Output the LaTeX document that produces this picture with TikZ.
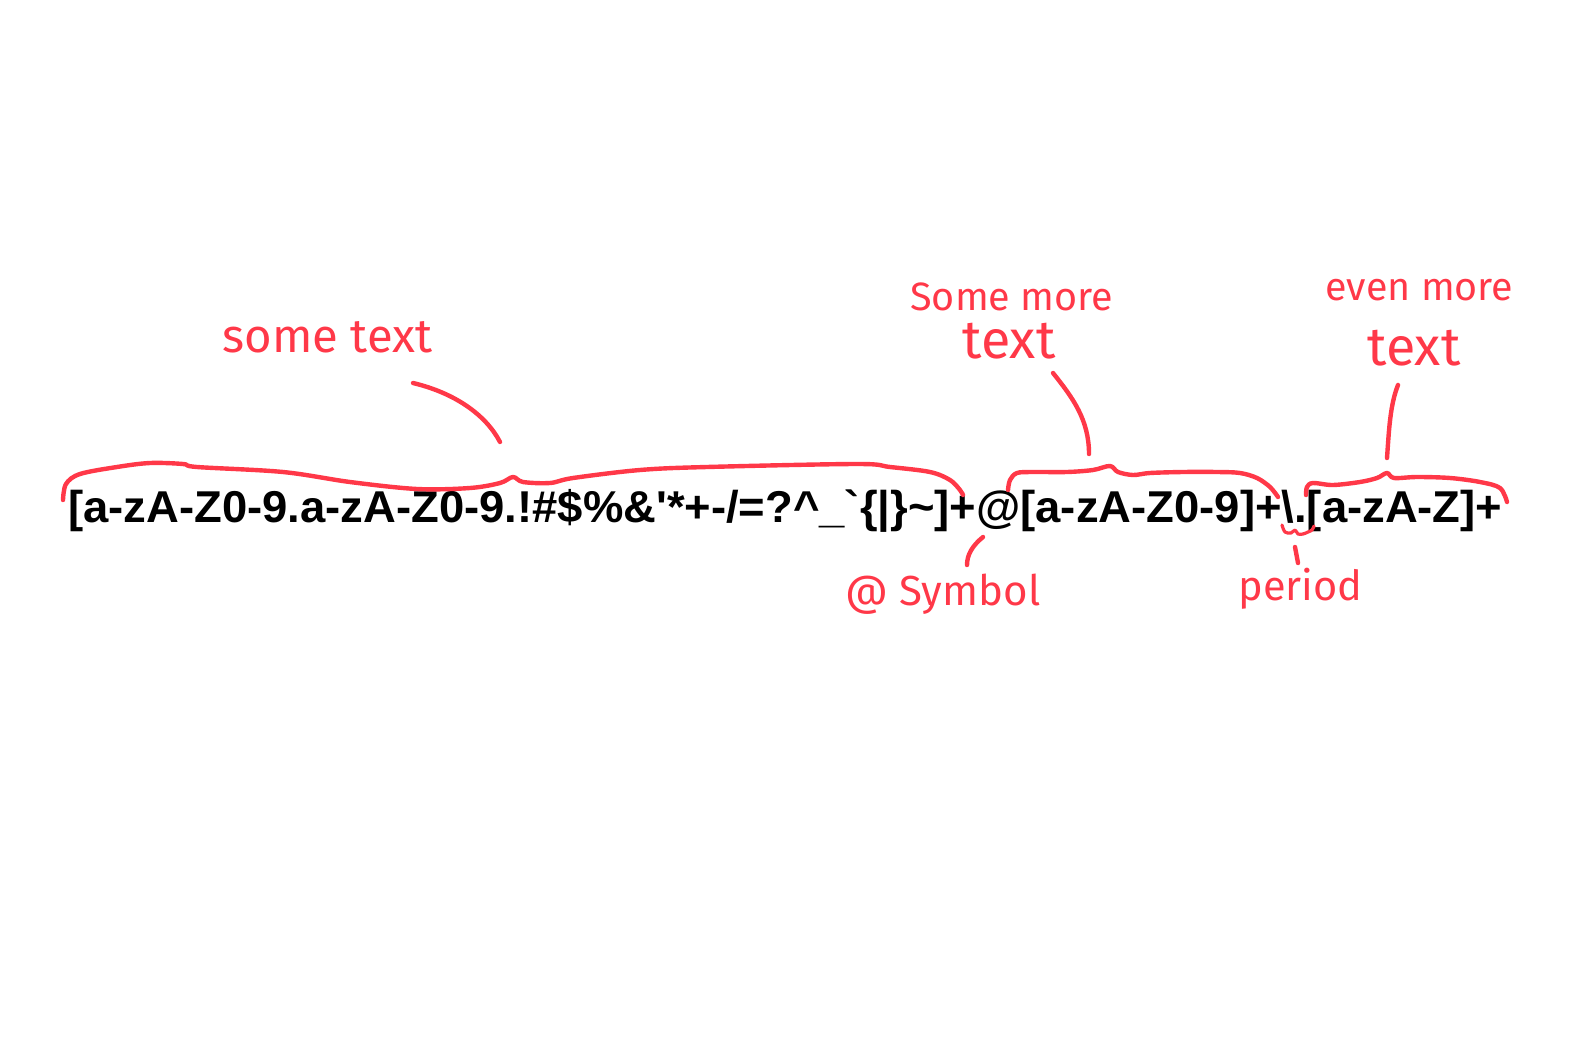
\documentclass[tikz,border=0pt]{standalone}
\usepackage{fontspec}
\usepackage{graphicx}
\newfontfamily\codefont{Liberation Sans}
\newfontfamily\handfont{Fira Sans}
\definecolor{pen}{RGB}{255,56,72}
\tikzset{
  penline/.style={draw=pen, line width=2.2pt, line cap=round, line join=round},
  hand/.style={text=pen, anchor=base west, inner sep=0pt, font=\handfont},
}
\begin{document}
\begin{tikzpicture}[x=0.5pt,y=-0.5pt]
\path[fill=white,use as bounding box] (0,0) rectangle (1578,1043);

% main expression
\node[anchor=base west, inner sep=0pt] (regex) at (68,522)
  {\resizebox{717pt}{\height}{\codefont\bfseries\fontsize{22.3pt}{26pt}\selectfont
  [a-zA-Z0-9.a-zA-Z0-9.!\#\$\%\&\textquotesingle*+-/=?\textasciicircum\_\textasciigrave\{|\}\textasciitilde]+@[a-zA-Z0-9]+\textbackslash.[a-zA-Z]+}};

% labels
\node[hand] (lbl1)  at (222,352)  {\resizebox{105pt}{!}{some text}};
\node[hand] (lbl2a) at (910,310)  {\resizebox{101.5pt}{!}{Some more}};
\node[hand] (lbl2b) at (962,358)  {\resizebox{46.5pt}{!}{text}};
\node[hand] (lbl3a) at (1325,300) {\resizebox{94pt}{!}{even more}};
\node[hand] (lbl3b) at (1367,365) {\resizebox{46.5pt}{!}{text}};
\node[hand] (lbl4)  at (845,605)  {\resizebox{97.5pt}{!}{@ Symbol}};
\node[hand] (lbl5)  at (1238,600) {\resizebox{62pt}{!}{period}};

% braces
\draw[penline] plot[smooth, tension=0.55] coordinates {
  (63,500) (66,484) (80,474) (117,467) (150,463) (183,464) (197,467)
  (283,472) (350,482) (417,489) (470,488) (500,483) (513,477)
  (523,482) (550,483) (573,478) (640,470) (707,467) (857,464)
  (890,467) (930,472) (950,480) (960,490) (963,495)};
\draw[penline] plot[smooth, tension=0.55] coordinates {
  (1008,490) (1010,480) (1017,473) (1033,472) (1067,472) (1093,470) (1110,466)
  (1118,472) (1133,475) (1150,473) (1183,472) (1217,472) (1240,473)
  (1257,478) (1270,487) (1278,497)};
\draw[penline] plot[smooth, tension=0.55] coordinates {
  (1306,495) (1307,487) (1313,483) (1333,485) (1360,482) (1377,478) (1387,473)
  (1394,478) (1417,477) (1450,478) (1480,482) (1500,488) (1507,502)};
\draw[penline, line width=1.6pt] plot[smooth, tension=0.6] coordinates {
  (1282,525) (1285,532) (1291,533) (1295,530) (1298,534) (1303,534)
  (1308,532) (1312,530) (1314,526)};

% connector ends
\coordinate (t1s) at (413,383); \coordinate (t1e) at (500,442);
\coordinate (t2s) at (1053,373); \coordinate (t2e) at (1089,454);
\coordinate (t3s) at (1398,385); \coordinate (t3e) at (1387,458);
\coordinate (t4s) at (983,537);  \coordinate (t4e) at (967,565);
\coordinate (t5s) at (1295,547); \coordinate (t5e) at (1298,563);

\draw[penline] (t1s) .. controls (455,393) and (486,415) .. (t1e);
\draw[penline] (t2s) .. controls (1073,398) and (1089,420) .. (t2e);
\draw[penline] (t3s) .. controls (1390,405) and (1389,430) .. (t3e);
\draw[penline] (t4s) .. controls (972,546) and (967,555) .. (t4e);
\draw[penline] (t5s) -- (t5e);
\end{tikzpicture}
\end{document}
